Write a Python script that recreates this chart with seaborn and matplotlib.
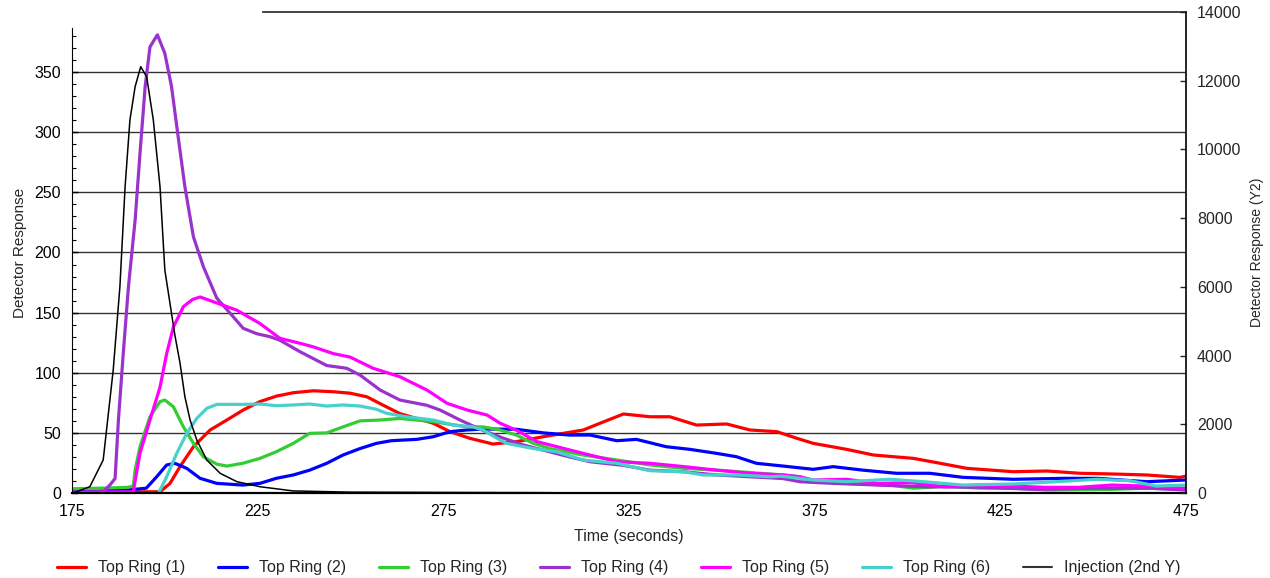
import matplotlib
matplotlib.use("Agg")
import matplotlib.pyplot as plt
from matplotlib.lines import Line2D
from matplotlib.ticker import MultipleLocator
import seaborn as sns

# Top Ring (1)
t1 = [175, 190, 198.7, 201.4, 204.1, 207.7, 212.2, 216.7, 221.1, 225.6, 230.1, 234.6, 240, 245.4,
      249.9, 254.4, 258.8, 263.3, 267.8, 272.3, 276.8, 282.1, 288.4, 294.7, 301.9, 307.3, 312.7,
      317.2, 323.5, 330.7, 336, 343.2, 351.3, 357.6, 364.8, 370.2, 374.6, 383.6, 390.8, 401.6,
      408.8, 416, 428.5, 437.5, 446.4, 455.4, 464.4, 473.3, 475]
v1 = [1, 1, 1, 8, 22, 38.5, 52.4, 60.7, 69, 76, 80.6, 83.4, 85, 84.2,
      83, 80, 73, 66, 62, 58, 51, 45.5, 40.7, 42.7, 46.8, 49.6, 52.4,
      58, 65.7, 63.4, 63.4, 56.5, 57.4, 52.4, 51, 45.5, 41.3, 36.3, 31.6, 28.8,
      24.7, 20.5, 17.7, 18.3, 16.4, 15.8, 15, 13, 14]

# Top Ring (2)
t2 = [175, 185, 190, 195, 197.8, 200.5, 202.7, 205.9, 209.5, 214, 221, 225.6, 230, 234.6, 239,
      243.6, 248, 252.6, 257, 261, 267.8, 272.3, 276.8, 281.3, 285.7, 294.7, 301.9, 309, 314.5,
      321.7, 327, 335, 341.4, 348.5, 353.9, 359.3, 366.5, 374.6, 380, 388, 397, 406, 415, 428.5,
      442, 451, 464.4, 475]
v2 = [1, 2, 2.5, 4, 13.5, 23.3, 24.7, 20.5, 12.2, 8, 6.6, 8, 12.2, 15, 19,
      24.7, 31.6, 37, 41.3, 43.5, 44.6, 46.8, 51, 52.4, 53.2, 53, 50, 48.2, 48.2,
      43.5, 44.6, 38.5, 36.3, 33, 30.2, 24.7, 22.4, 19.7, 21.9, 19, 16.4, 16.4, 13, 11.4,
      12.2, 12.2, 9.4, 10.8]

# Top Ring (3)
t3 = [175, 185, 190, 191.5, 192, 193.3, 196, 198.7, 200, 202.3, 205, 207.7, 210.4, 214, 216.7,
      221, 225.6, 230, 234.6, 239, 243.6, 248, 252.6, 258, 263.3, 272.3, 281.4, 285.7, 290.3,
      294.8, 299.2, 303.7, 312.6, 321.8, 330.7, 339.6, 348.6, 357.6, 366.5, 371, 374.6, 383.7,
      395.3, 401.6, 406, 410, 419.5, 428.5, 437.5, 455, 464.4, 475]
v3 = [3.5, 4.2, 4.7, 5.8, 19, 38.5, 63.4, 76, 77.3, 71.7, 55, 41.3, 30, 24, 22.4,
      24.7, 28.8, 34.3, 41.3, 49.6, 50, 55, 60, 60.7, 62, 59.3, 55, 55, 52.4,
      48, 41.3, 37, 31.6, 27.4, 23.3, 20.5, 19, 17, 15, 13.5, 9.4, 8,
      6.6, 4, 4.7, 5.8, 4, 4, 2.5, 3, 4, 3]

# Top Ring (4)
t4 = [175, 183.4, 185.2, 186.6, 187.5, 188.8, 190.2, 192, 193.3, 194.7, 196, 198, 200, 201.8,
      203.6, 205.4, 207.7, 210.4, 212.2, 214, 216, 218.4, 221.1, 224.7, 228.3, 231, 236.4, 243.6,
      249, 252.6, 258, 263.3, 270.5, 274.1, 279.5, 284.9, 290.3, 296.5, 301.8, 309, 314.5, 323.4,
      330.7, 339.6, 348.6, 357.6, 366.5, 371, 380, 392, 405, 420, 435, 450, 465, 475]
v4 = [0.5, 1, 6.6, 12, 60.7, 116, 171.5, 227, 282, 338, 371, 381, 365.6, 338,
      296, 254.7, 213, 188, 175, 162, 155, 146.6, 137, 132.5, 130, 127, 117.5, 106,
      103.7, 98, 85.6, 77.3, 73, 69, 60.7, 53, 46.5, 40, 35.7, 30, 26, 23,
      19, 17.7, 15, 13.5, 12, 9.4, 8, 6.6, 5.2, 4.7, 3, 4, 4, 2.5]

# Top Ring (5)
t5 = [175, 191.5, 193.3, 196, 198.7, 200.5, 202.3, 205, 207.5, 209.5, 214, 219.4, 225.6, 231,
      236.4, 239.9, 245.3, 249.9, 256.1, 263.3, 270.6, 276, 281.4, 286.8, 290.3, 294.8, 300.2,
      305.6, 312.6, 321.8, 330.7, 339.6, 348.6, 357.6, 366.5, 371, 374.6, 383.6, 392, 401, 410,
      419, 428, 437, 446, 455, 464, 475]
v5 = [0.5, 1, 33, 60.7, 88, 116, 138, 155, 161, 163, 158, 152, 141, 128.6,
      124.5, 121.6, 116, 113, 103.7, 96.7, 85.6, 74.6, 69, 64.8, 58, 52, 42.7,
      38.5, 33, 26, 24.7, 22, 19, 16.4, 15, 13.5, 10.8, 11.4, 8, 8.6, 5.2,
      6.6, 5.8, 4.7, 4.7, 6.6, 5.8, 4]

# Top Ring (6)
t6 = [198, 200.5, 203.2, 205.9, 208.6, 211.3, 214, 221, 225.6, 230, 234.6, 239, 243.6, 248,
      252.6, 257, 259.7, 265, 272.3, 277.7, 283, 285.7, 290.3, 292, 299.2, 305.5, 312.7, 321.7,
      330.7, 339.6, 345, 354, 363, 366, 374.6, 383.6, 395.3, 404.3, 415, 428.5, 440, 451, 460,
      467, 475]
v6 = [-2, 13.5, 33, 49.6, 62, 70.4, 73.7, 73.7, 74, 72.6, 73.2, 74, 72.3, 73.2,
      72.3, 69.6, 66.3, 63.4, 60.7, 56.5, 55, 52.4, 44, 41.3, 37, 34.3, 27.4, 24.7,
      18.5, 17.7, 15, 15, 13.5, 14, 10.8, 9.4, 11.4, 9.4, 6.6, 7.5, 9.4, 11.4, 10.2,
      5.8, 6.6]

# Injection (2nd Y)
t_inj = [175, 176.3, 179.8, 183.4, 186.1, 187.9, 189.3, 190.6, 192, 193.5, 195.1, 196.9, 198.7,
         200, 202.7, 204.1, 205.4, 206.8, 208.6, 211.3, 214.9, 219.4, 225.6, 234.6, 250, 280,
         300, 315]
v_inj = [0, 40, 183, 960, 3580, 6005, 8916, 10857, 11826, 12408, 12117, 10857, 8916,
         6490, 4600, 3775, 2803, 2125, 1543, 960, 573, 330, 183, 60, 25, 15, 10, 0]

x_ticks = [175, 225, 275, 325, 375, 425, 475]
y_ticks = [0, 50, 100, 150, 200, 250, 300, 350]

ring_names = ["Top Ring (1)", "Top Ring (2)", "Top Ring (3)",
              "Top Ring (4)", "Top Ring (5)", "Top Ring (6)"]
ring_colors = ["#ff0000", "#0000ff", "#33cc33", "#9933cc", "#ff00ff", "#48d1cc"]
ring_data = [(t1, v1), (t2, v2), (t3, v3), (t4, v4), (t5, v5), (t6, v6)]

sns.set_style("white")
plt.rcParams["font.family"] = ["Liberation Sans", "DejaVu Sans"]

fig = plt.figure(figsize=(12.7, 5.78), dpi=100)
ax = fig.add_axes([72 / 1270, 1 - 493 / 578, (1186 - 72) / 1270, (493 - 12) / 578])
ax2 = ax.twinx()

for (t, v), name, color in zip(ring_data, ring_names, ring_colors):
    sns.lineplot(x=t, y=v, ax=ax, color=color, lw=2.3, estimator=None, sort=False)

sns.lineplot(x=t_inj, y=v_inj, ax=ax2, color="black", lw=1.1, estimator=None, sort=False)

ax.set_xlim(175, 475)
ax.set_ylim(0, 400)
ax2.set_ylim(0, 14000)

ax.set_xticks(x_ticks)
ax.set_xticks(list(range(185, 475, 10)), minor=True)
ax.set_yticks(y_ticks)
ax.set_yticks(list(range(10, 390, 10)), minor=True)
ax2.yaxis.set_major_locator(MultipleLocator(2000))

# horizontal grid lines
for g in y_ticks[1:]:
    ax.axhline(g, color="#333333", lw=1.0, zorder=0)

ax.tick_params(axis="both", which="both", direction="in", labelsize=11.5, colors="black")
ax.tick_params(axis="both", which="major", length=4, width=1)
ax.tick_params(axis="both", which="minor", length=3, width=0.8)
ax.tick_params(axis="x", pad=8)
ax.tick_params(axis="y", pad=8)
ax2.tick_params(axis="y", which="major", direction="in", length=4, width=1,
                labelsize=11.5, pad=8)

for s in ["top", "right"]:
    ax.spines[s].set_visible(False)
for s in ["left", "bottom"]:
    ax2.spines[s].set_visible(False)
ax.spines["left"].set_bounds(0, 387)
ax.spines["left"].set_color("black")
ax.spines["bottom"].set_color("black")
ax.spines["bottom"].set_linewidth(1.6)
ax2.spines["right"].set_color("black")
ax2.spines["right"].set_linewidth(1.2)
ax2.spines["top"].set_color("#222222")
ax2.spines["top"].set_linewidth(1.2)
ax2.spines["top"].set_bounds(226.4, 475)

ax.set_xlabel("Time (seconds)", fontsize=11.5, labelpad=7)
ax.set_ylabel("Detector Response", fontsize=11, labelpad=5)
ax2.set_ylabel("Detector Response (Y2)", fontsize=10, labelpad=6)

handles = [Line2D([], [], color=c, lw=2.3) for c in ring_colors]
handles.append(Line2D([], [], color="#333333", lw=1.5))
labels = ring_names + ["Injection (2nd Y)"]
fig.legend(handles, labels, loc="lower center", bbox_to_anchor=(0.487, -0.02), ncol=7,
           frameon=False, fontsize=11.5, handlelength=1.85, handletextpad=0.72,
           columnspacing=2.05)

fig.savefig("out.png", dpi=100)
